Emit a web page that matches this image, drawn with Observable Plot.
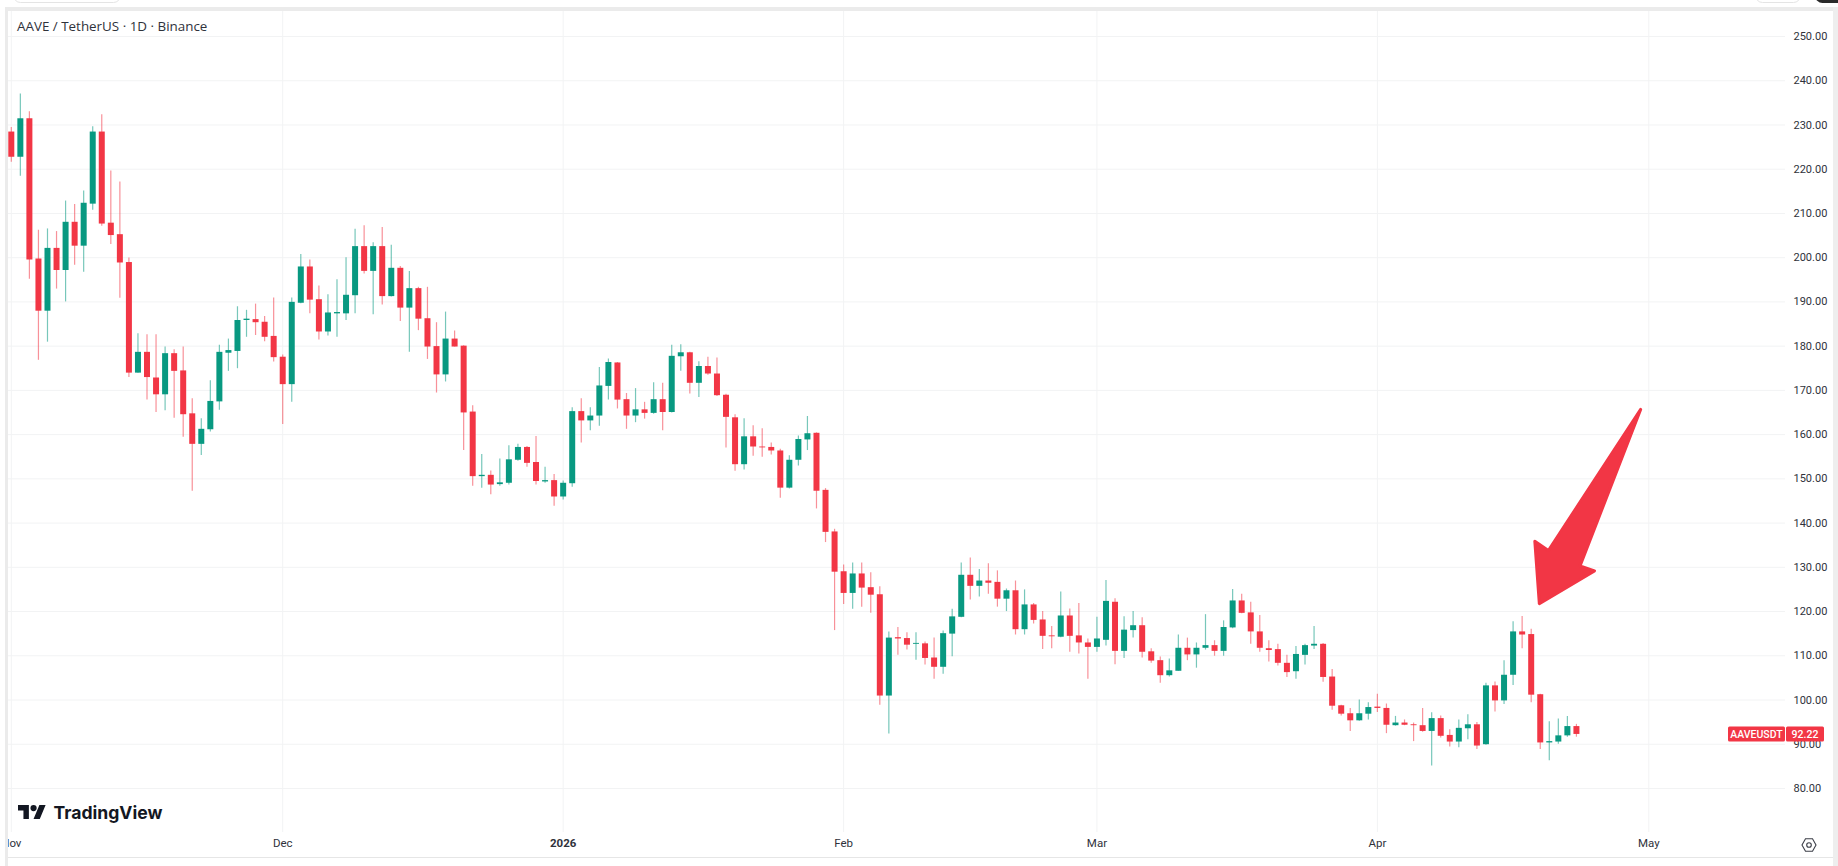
<!DOCTYPE html>
<html><head><meta charset="utf-8">
<script src="https://cdn.jsdelivr.net/npm/d3@7"></script>
<script src="https://cdn.jsdelivr.net/npm/@observablehq/plot@0.6"></script>
<style>
html,body{margin:0;padding:0;background:#fff;width:1838px;height:866px;overflow:hidden}
#chart{position:absolute;left:0;top:0}
.f{position:absolute}
</style></head><body>
<div id="chart"></div>
<div class="f" style="left:0;top:0;width:5px;height:866px;background:#fff"></div>
<div class="f" style="left:5px;top:7px;width:3px;height:859px;background:#ebebeb"></div>
<div class="f" style="left:0;top:0;width:1838px;height:7px;background:#fff"></div>
<div class="f" style="left:5px;top:7px;width:1833px;height:4px;background:#ebebeb"></div>
<div class="f" style="left:1833px;top:7px;width:5px;height:859px;background:#eeeeee"></div>
<div class="f" style="left:8px;top:857px;width:1825px;height:1px;background:#e6e6e6"></div>
<div class="f" style="left:13px;top:-12px;width:106px;height:13px;border:1px solid #e4e4e4;border-radius:8px"></div>
<div class="f" style="left:1755px;top:-12px;width:44px;height:13px;border:1px solid #e4e4e4;border-radius:8px"></div>
<div class="f" style="left:1815px;top:-12px;width:40px;height:15px;background:#2a2a2a;border-radius:8px"></div>
<svg class="f" style="left:18px;top:805px" width="28" height="14" viewBox="0 0 36 18">
  <path d="M14 18H7V7H0V0h14v18zM28 18h-8L27.500 0h8L28 18z" fill="#131722"/><circle cx="20" cy="4" r="4" fill="#131722"/>
</svg>
<svg class="f" style="left:1801px;top:837px" width="16" height="16" viewBox="0 0 16 16" fill="none" stroke="#3c3f48" stroke-width="1.1">
  <path d="M4.500 1.800h7L15 8l-3.500 6.200h-7L1 8z"/><circle cx="8" cy="8" r="2.300"/>
</svg>
<script>
const titleText = "AAVE / TetherUS · 1D · Binance";
const firstDay = Date.UTC(2025, 10, 1);
const opens = [
228.4,222.7,231.4,199.7,187.9,202.1,197.1,208.0,202.6,212.1,228.4,207.8,205.2,198.9,173.9,178.6,172.8,169.0,178.3,174.4,
164.7,157.8,161.1,167.4,178.4,178.8,185.8,186.0,185.4,182.2,177.5,171.3,189.7,197.9,190.5,183.2,187.3,187.3,191.4,202.5,
196.9,202.5,191.2,197.6,188.6,193.0,186.2,179.9,173.5,181.6,180.0,165.1,150.5,150.8,148.7,149.0,154.2,157.1,153.7,149.3,
149.6,145.9,148.9,165.2,163.1,164.2,170.9,176.2,167.9,164.2,165.6,164.8,167.9,165.0,177.6,178.5,171.6,175.4,173.7,168.9,
163.8,153.2,159.5,157.2,157.1,156.3,147.9,154.2,158.8,160.3,147.4,138.0,129.0,124.1,128.5,125.4,123.8,100.9,114.1,113.9,
112.6,112.7,109.5,107.4,114.9,118.7,128.2,125.7,126.9,126.6,122.8,124.7,115.9,121.5,118.1,114.5,114.2,119.0,114.5,112.9,
111.9,113.5,122.1,111.0,115.7,116.8,110.9,108.9,105.5,106.5,111.7,110.2,111.7,112.3,111.0,116.3,122.4,119.7,115.4,111.6,
111.4,108.3,106.4,110.1,112.2,112.6,105.2,98.7,96.9,95.3,96.8,98.4,98.1,94.2,94.8,94.4,94.2,92.9,95.8,92.0,
90.5,93.5,94.4,89.9,103.2,99.8,105.6,115.4,114.8,101.2,90.3,90.5,91.9,94.0];
const closes = [
222.7,231.4,199.5,187.9,202.1,197.1,208.0,202.6,212.3,228.4,207.6,205.0,198.8,173.9,178.6,172.9,169.0,178.3,174.3,164.5,
157.8,161.2,167.5,178.6,179.0,185.8,186.1,185.3,182.0,177.4,171.3,189.9,197.9,190.4,183.2,187.5,187.6,191.5,202.5,196.9,
202.5,191.2,197.6,188.6,193.0,186.1,179.8,173.5,181.6,179.8,164.9,150.5,150.8,148.6,149.1,154.3,157.1,153.5,149.4,149.6,
145.9,149.0,165.2,163.1,164.2,171.0,176.3,167.8,164.2,165.6,164.8,167.9,165.0,177.7,178.5,171.6,175.4,173.7,168.8,163.9,
153.2,159.5,157.2,157.0,156.3,147.9,154.2,158.9,160.2,147.2,137.9,128.9,124.1,128.5,125.3,123.7,100.9,114.0,113.8,112.4,
112.8,109.4,107.4,115.0,118.8,128.2,125.7,126.9,126.4,122.8,124.7,115.9,121.5,118.0,114.4,114.3,119.0,114.4,112.9,111.9,
113.8,122.3,111.0,115.8,116.8,110.8,108.8,105.5,106.6,111.7,110.2,111.7,112.3,111.0,116.4,122.4,119.6,115.4,111.7,111.2,
108.3,106.2,110.3,112.3,112.6,105.1,98.6,96.8,95.3,96.9,98.3,98.1,94.3,94.8,94.3,94.2,92.9,95.8,91.8,90.5,
93.6,94.4,89.6,103.2,99.8,105.6,115.4,114.7,101.1,90.3,90.6,91.9,94.0,92.22];
const highs = [
229.4,237.0,233.0,206.2,206.5,205.9,212.8,212.0,215.1,229.6,232.3,219.6,217.1,199.9,182.8,182.6,182.6,179.8,179.2,179.8,
168.1,163.6,172.2,180.2,181.6,188.9,188.1,189.5,186.7,190.9,178.0,190.9,200.7,199.5,193.6,191.6,195.0,200.0,206.4,207.2,
203.4,206.8,202.8,198.0,196.9,193.3,193.3,185.3,187.7,183.4,180.1,166.5,155.5,151.8,154.5,157.5,157.8,157.3,159.6,152.6,
151.0,149.5,166.1,168.1,166.1,175.2,177.1,176.3,169.3,170.4,167.3,171.7,171.6,180.2,180.3,178.6,176.5,177.5,177.3,169.1,
164.5,163.6,162.0,161.3,158.1,156.7,155.2,159.7,164.1,160.4,147.8,138.6,130.5,131.0,131.0,128.8,125.6,115.4,116.4,115.2,
115.2,113.1,114.0,115.6,120.5,131.0,132.1,129.5,130.8,129.2,125.1,126.9,124.9,121.8,120.0,116.6,124.4,120.6,121.8,113.8,
118.7,127.0,122.9,118.8,120.0,118.6,111.6,109.7,109.3,114.7,114.0,112.9,119.3,113.4,117.9,125.0,123.9,122.1,119.1,113.4,
112.6,110.1,112.1,112.6,116.6,112.8,106.9,98.8,98.1,100.0,99.4,101.3,99.1,96.3,95.5,94.8,98.1,97.1,96.4,93.3,
95.5,96.7,94.9,103.8,104.1,108.9,117.7,118.9,116.0,101.3,95.1,95.7,96.3,94.5];
const lows = [
221.6,218.4,195.1,176.8,180.9,192.9,190.0,198.3,196.7,210.7,207.1,203.0,190.8,172.9,173.9,167.8,165.0,165.4,163.7,159.4,
147.2,155.3,160.6,165.5,174.3,174.9,182.0,182.4,181.0,176.4,162.3,167.3,189.6,187.3,181.4,182.3,182.0,185.8,187.3,196.3,
187.1,189.3,191.1,185.6,178.6,183.5,177.0,169.4,171.9,179.8,156.4,148.3,147.9,146.4,148.3,148.6,154.0,152.6,148.6,149.0,
143.8,145.2,148.1,158.1,160.9,161.9,167.8,165.8,161.2,162.7,163.5,164.6,160.9,164.9,174.3,169.2,168.4,173.4,168.6,157.0,
151.7,152.0,155.1,154.9,155.4,145.6,147.7,152.9,156.4,143.2,135.6,115.7,121.6,120.5,121.0,119.6,98.8,92.3,110.1,111.3,
109.0,107.9,104.7,105.8,109.8,118.6,122.6,123.3,123.9,121.0,120.0,114.7,114.7,117.2,111.4,111.6,114.1,110.8,110.4,104.7,
110.8,112.2,108.0,109.4,114.0,109.5,108.3,103.8,105.2,106.5,108.9,107.2,111.3,109.9,109.9,116.1,119.5,112.6,110.8,108.6,
107.7,105.1,104.7,107.9,111.4,104.0,97.7,96.4,92.9,95.2,95.5,97.2,92.4,94.1,94.2,90.6,92.7,85.1,91.4,89.4,
89.2,91.0,88.8,89.8,97.3,99.0,103.3,111.6,99.4,88.8,86.3,90.0,91.6,91.6];
const monthTicks = [[2025,10],[2025,11],[2026,1],[2026,2],[2026,3],[2026,4]].map(([y,m]) => new Date(Date.UTC(y,m,1)));
const monthLabels = ["Nov","Dec","Feb","Mar","Apr","May"];
const yearTick = [new Date(Date.UTC(2026,0,1))];
const yearLabel = ["2026"];
const priceTicks = [250,240,230,220,210,200,190,180,170,160,150,140,130,120,110,100,90,80];
const arrowDays = [168.9,168.4,169.9,180.1,173.4,175.0,168.9];
const arrowPrices = [121.8,135.9,133.8,165.7,130.3,129.2,121.8];
const symbolName = "AAVEUSDT";
const up = "#089981", down = "#F23645";

const candles = opens.map((o,i) => ({date:new Date(firstDay+i*864e5),open:o,close:closes[i],high:highs[i],low:lows[i]}));
const ups = candles.filter(d => d.close >= d.open), downs = candles.filter(d => d.close < d.open);
const arrow = arrowDays.map((d,i) => ({x:new Date(firstDay+d*864e5),y:arrowPrices[i]}));
const last = candles[candles.length-1];
const FONT = "Roboto, sans-serif", AXIS = "#2f323b";

function priceTag(index, {y}) {
  const yy = y(last.close);
  const g = d3.create("svg:g").attr("font-family",FONT).attr("font-size",10.5).attr("font-weight",500).attr("fill","#fff").attr("text-anchor","middle");
  for (const [x,w,t] of [[1728,57,symbolName],[1786,38,last.close.toFixed(2)]]) {
    g.append("rect").attr("x",x).attr("y",yy-7.5).attr("width",w).attr("height",15).attr("rx",1.5).attr("fill",down);
    g.append("text").attr("x",x+w/2).attr("y",yy).attr("dy","0.35em").text(t);
  }
  return g.node();
}

const plot = Plot.plot({
  width:1838, height:866,
  marginLeft:8, marginRight:53, marginTop:11, marginBottom:34,
  style:{background:"#fff",fontFamily:FONT},
  x:{type:"utc",domain:[monthTicks[0],monthTicks[5]],range:[10.8,1648.3]},
  y:{type:"linear",domain:[80,250],range:[788,36]},
  marks:[
    Plot.gridY(priceTicks,{stroke:"#f2f3f4",strokeOpacity:1}),
    Plot.gridX([...monthTicks,...yearTick],{stroke:"#f2f3f4",strokeOpacity:1}),
    Plot.axisY({anchor:"right",ticks:priceTicks,tickSize:0,tickPadding:8,tickFormat:d=>d.toFixed(2),label:null,textAnchor:"start",fontSize:11,fill:AXIS}),
    Plot.axisX({ticks:monthTicks,tickSize:0,tickPadding:6,tickFormat:(d,i)=>monthLabels[i],label:null,fontSize:11.5,fill:AXIS}),
    Plot.axisX({ticks:yearTick,tickSize:0,tickPadding:6,tickFormat:(d,i)=>yearLabel[i],label:null,fontSize:11.5,fontWeight:700,fill:AXIS}),
    Plot.ruleX(ups,{x:"date",y1:"low",y2:"high",stroke:up,strokeWidth:1.2,strokeOpacity:0.55}),
    Plot.ruleX(downs,{x:"date",y1:"low",y2:"high",stroke:down,strokeWidth:1.2,strokeOpacity:0.55}),
    Plot.ruleX(ups,{x:"date",y1:"open",y2:"close",stroke:up,strokeWidth:6}),
    Plot.ruleX(downs,{x:"date",y1:"open",y2:"close",stroke:down,strokeWidth:6}),
    Plot.line(arrow,{x:"x",y:"y",fill:down,stroke:down,strokeWidth:3,strokeLinejoin:"round",curve:"linear"}),
    Plot.text([titleText],{frameAnchor:"top-left",dx:8.5,dy:15,lineAnchor:"middle",textAnchor:"start",fontSize:13.4,fontFamily:"Open Sans, sans-serif",fill:AXIS}),
    Plot.text(["TradingView"],{frameAnchor:"top-left",dx:45,dy:802,lineAnchor:"middle",textAnchor:"start",fontSize:17.6,fontWeight:700,fontFamily:"Inter, sans-serif",fill:"#131722"}),
    priceTag
  ]
});
document.getElementById("chart").append(plot);
</script>
</body></html>
